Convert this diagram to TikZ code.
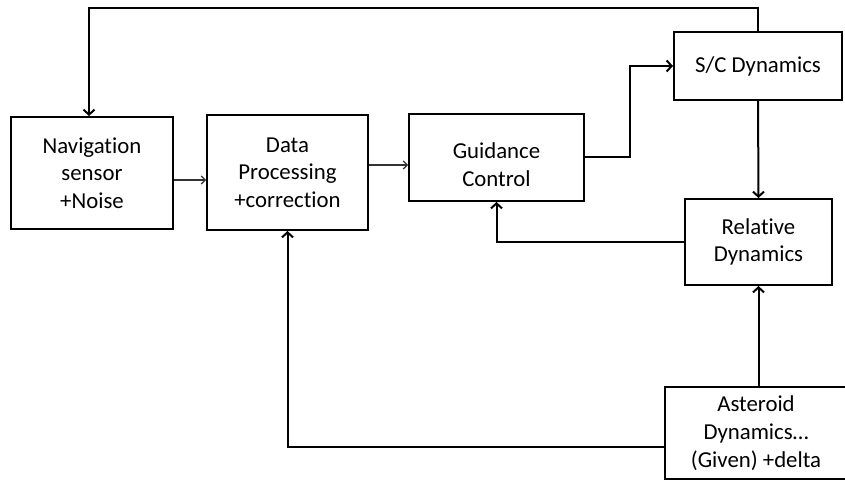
\documentclass[tikz,border=0pt]{standalone}
\usepackage{fontspec}
\setmainfont{Carlito}[Ligatures=NoCommon]
\usetikzlibrary{arrows.meta,calc}
\begin{document}
\begin{tikzpicture}[x=1pt,y=-1pt,
  blk/.style={draw=black,line width=2pt,fill=white,inner sep=0pt,align=center,
    font=\fontsize{22.8}{27.7}\selectfont},
  thk/.style={line width=2pt,-{Straight Barb[length=5pt,width=11pt,line width=2pt]}},
  thn/.style={line width=1.1pt,draw=black!80,-{Straight Barb[length=4pt,width=8pt,line width=1.1pt]}}]
\useasboundingbox[fill=white] (0,0) rectangle (845,481);
\node[blk,minimum width=162pt,minimum height=112pt] (nav) at (92,173) {Navigation\\sensor\\+Noise};
\node[blk,minimum width=161pt,minimum height=115pt] (dp) at (287.5,172.5) {Data\\Processing\\+correction};
\node[blk,minimum width=175pt,minimum height=87pt] (gc) at (496.5,157.5) {\rule{0pt}{30pt}Guidance\\Control};
\node[blk,minimum width=168pt,minimum height=68pt] (sc) at (758,66) {S/C Dynamics};
\node[blk,minimum width=147pt,minimum height=86pt] (rel) at (758.5,242) {Relative\\Dynamics};
\node[blk,minimum width=182pt,minimum height=92pt] (ast) at (756,433) {Asteroid\\Dynamics…\\(Given) +delta};
\coordinate (tl) at (89,8);
\draw[thk] (sc.north) |- (tl) -- (tl |- nav.north);
\draw[thn] ($(nav.east)+(0,7)$) -- ($(dp.west)+(0,7.5)$);
\draw[thn] ($(dp.east)+(0,-7.5)$) -- ($(gc.west)+(0,7.5)$);
\draw[thk] (gc.east) -- ++(45,0) |- (sc.west);
\draw[thk] (sc.south) -- (rel.north);
\draw[thk] (rel.west) -| (gc.south);
\draw[thk] (rel.south |- ast.north) -- (rel.south);
\draw[thk] ($(ast.west)+(0,14)$) -| (dp.south);
\end{tikzpicture}
\end{document}
